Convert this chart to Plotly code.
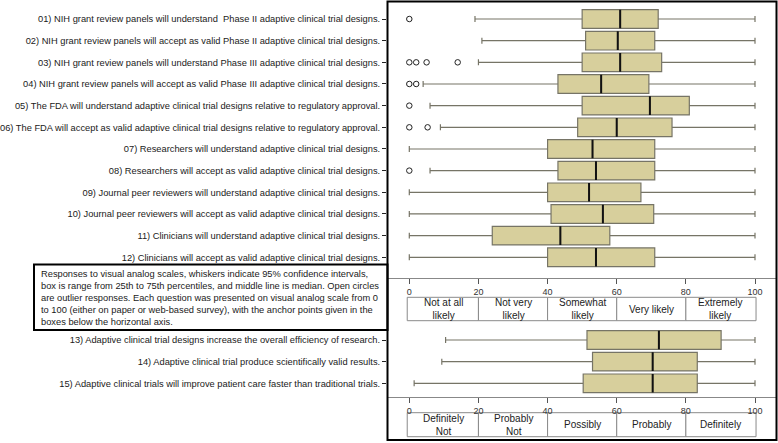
import plotly.graph_objects as go

# ---------------- data ----------------
top_labels = [
    "01) NIH grant review panels will understand  Phase II adaptive clinical trial designs.",
    "02) NIH grant review panels will accept as valid Phase II adaptive clinical trial designs.",
    "03) NIH grant review panels will understand Phase III adaptive clinical trial designs.",
    "04) NIH grant review panels will accept as valid Phase III adaptive clinical trial designs.",
    "05) The FDA will understand adaptive clinical trial designs relative to regulatory approval.",
    "06) The FDA will accept as valid adaptive clinical trial designs relative to regulatory approval.",
    "07) Researchers will understand adaptive clinical trial designs.",
    "08) Researchers will accept as valid adaptive clinical trial designs.",
    "09) Journal peer reviewers will understand adaptive clinical trial designs.",
    "10) Journal peer reviewers will accept as valid adaptive clinical trial designs.",
    "11) Clinicians will understand adaptive clinical trial designs.",
    "12) Clinicians will accept as valid adaptive clinical trial designs.",
]
top_low    = [19, 21, 20, 4, 6, 9, 0, 6, 0, 0, 0, 0]
top_q1     = [50, 51, 50, 43, 50, 48.7, 40, 43, 40, 41, 24, 40]
top_median = [61, 60.3, 61, 55.5, 69.6, 60, 53, 54, 52, 56, 43.7, 54]
top_q3     = [72, 71, 73, 69.3, 81, 76, 71, 71, 67, 70.7, 58, 71]
top_high   = [100, 100, 100, 100, 100, 100, 100, 100, 100, 100, 100, 100]
top_outliers = {1: [0], 3: [0, 2, 5, 14], 4: [0, 2], 5: [0], 6: [0, 5.3], 8: [0]}

bot_labels = [
    "13) Adaptive clinical trial designs increase the overall efficiency of research.",
    "14) Adaptive clinical trial produce scientifically valid results.",
    "15) Adaptive clinical trials will improve patient care faster than traditional trials.",
]
bot_low    = [10.5, 9.4, 1.4]
bot_q1     = [51.4, 53, 50.3]
bot_median = [72.2, 70.4, 70.4]
bot_q3     = [90.2, 83.3, 83.3]
bot_high   = [100, 100, 100]

x_ticks = [0, 20, 40, 60, 80, 100]
top_anchors = ["Not at all<br>likely", "Not very<br>likely", "Somewhat<br>likely", "Very likely", "Extremely<br>likely"]
bot_anchors = ["Definitely<br>Not", "Probably<br>Not", "Possibly", "Probably", "Definitely"]

note = ("Responses to visual analog scales, whiskers indicate 95% confidence intervals,<br>"
        "box is range from 25th to 75th percentiles, and middle line is median. Open circles<br>"
        "are outlier responses. Each question was presented on visual analog scale from 0<br>"
        "to 100 (either on paper or web-based survey), with the anchor points given in the<br>"
        "boxes below the horizontal axis.")

# ---------------- figure ----------------
W, H = 778, 443
FONT = "Liberation Sans, Arial, sans-serif"
BOXFILL = "#d7cf9c"
BOXLINE = "#767466"
HALF = 0.43

def px_x(p):
    return p / W

def px_y(p):
    return 1 - p / H

fig = go.Figure()

top_pos = list(range(1, len(top_labels) + 1))
bot_pos = list(range(1, len(bot_labels) + 1))

def add_panel(pos, low, q1, med, q3, high, xa, ya):
    fig.add_trace(go.Box(
        y=pos, q1=q1, median=med, q3=q3, lowerfence=low, upperfence=high,
        orientation="h", width=2 * HALF, boxpoints=False, whiskerwidth=0.32,
        fillcolor=BOXFILL, line=dict(color=BOXLINE, width=1.2),
        xaxis=xa, yaxis=ya, showlegend=False, hoverinfo="skip"))
    mx, my = [], []
    for p, m in zip(pos, med):
        mx += [m, m, None]
        my += [p - HALF, p + HALF, None]
    fig.add_trace(go.Scatter(x=mx, y=my, mode="lines", line=dict(color="#111", width=2),
                             xaxis=xa, yaxis=ya, showlegend=False, hoverinfo="skip"))

add_panel(top_pos, top_low, top_q1, top_median, top_q3, top_high, "x", "y")
add_panel(bot_pos, bot_low, bot_q1, bot_median, bot_q3, bot_high, "x2", "y2")

ox, oy = [], []
for row, vals in top_outliers.items():
    for v in vals:
        ox.append(v)
        oy.append(row)
fig.add_trace(go.Scatter(x=ox, y=oy, mode="markers",
                         marker=dict(symbol="circle-open", size=5.5, color="#222", line=dict(width=1)),
                         xaxis="x", yaxis="y", showlegend=False, hoverinfo="skip"))

x_left, x_right = 387, 776
xr = [-22.3 / 3.457, (x_right - 409.3) / 3.457]

xcommon = dict(range=xr, tickvals=x_ticks, ticktext=[str(t) for t in x_ticks],
               ticks="outside", ticklen=5, tickcolor="#555", tickwidth=1,
               showline=True, linecolor="#888", linewidth=1, showgrid=False, zeroline=False,
               tickfont=dict(family=FONT, size=9, color="#333"))
ycommon = dict(ticks="outside", ticklen=4, tickcolor="#222", tickwidth=1,
               showline=False, showgrid=False, zeroline=False,
               tickfont=dict(family=FONT, size=9.3, color="#1a1a1a"))

fig.update_layout(
    width=W, height=H, margin=dict(l=0, r=0, t=0, b=0),
    paper_bgcolor="white", plot_bgcolor="white",
    xaxis=dict(domain=[px_x(x_left), px_x(x_right)], anchor="y", **xcommon),
    yaxis=dict(domain=[px_y(278.3), px_y(2)], anchor="x",
               range=[12.97, 0.215], tickvals=top_pos, ticktext=top_labels, **ycommon),
    xaxis2=dict(domain=[px_x(x_left), px_x(x_right)], anchor="y2", **xcommon),
    yaxis2=dict(domain=[px_y(397.3), px_y(325)], anchor="x2",
                range=[3.647, 0.307], tickvals=bot_pos, ticktext=bot_labels, **ycommon),
)

shapes = []
annotations = []

def anchor_row(labels, y_top, y_bot, xref):
    for i, lab in enumerate(labels):
        x0 = x_ticks[i]
        x1 = x_ticks[i + 1]
        shapes.append(dict(type="rect", xref=xref, yref="paper",
                           x0=x0 - (0.6 if i == 0 else 0), x1=x1 + (0.3 if i == len(labels) - 1 else 0),
                           y0=px_y(y_bot), y1=px_y(y_top),
                           line=dict(color="#8a8a8a", width=1), fillcolor="white", layer="below"))
        annotations.append(dict(xref=xref, yref="paper", x=(x0 + x1) / 2, y=px_y((y_top + y_bot) / 2),
                                text=lab, showarrow=False, xanchor="center", yanchor="middle",
                                font=dict(family=FONT, size=10, color="#222")))

anchor_row(top_anchors, 297.3, 320.7, "x")
anchor_row(bot_anchors, 412.7, 436.7, "x2")

# outer frame
shapes.append(dict(type="rect", xref="paper", yref="paper",
                   x0=px_x(387.5), x1=px_x(776.5), y0=px_y(440), y1=px_y(1.5),
                   line=dict(color="black", width=2)))
# note box
shapes.append(dict(type="rect", xref="paper", yref="paper",
                   x0=px_x(34), x1=px_x(387.5), y0=px_y(330), y1=px_y(264.5),
                   line=dict(color="black", width=2)))
annotations.append(dict(xref="paper", yref="paper", x=px_x(39), y=px_y(297.5),
                        text=note, showarrow=False, xanchor="left", yanchor="middle", align="left",
                        font=dict(family=FONT, size=9.3, color="#1a1a1a")))

fig.update_layout(shapes=shapes, annotations=annotations)

fig.write_html("out.html", config={"displayModeBar": False},
               post_script="document.body.style.margin='0';document.body.style.overflow='hidden';")
